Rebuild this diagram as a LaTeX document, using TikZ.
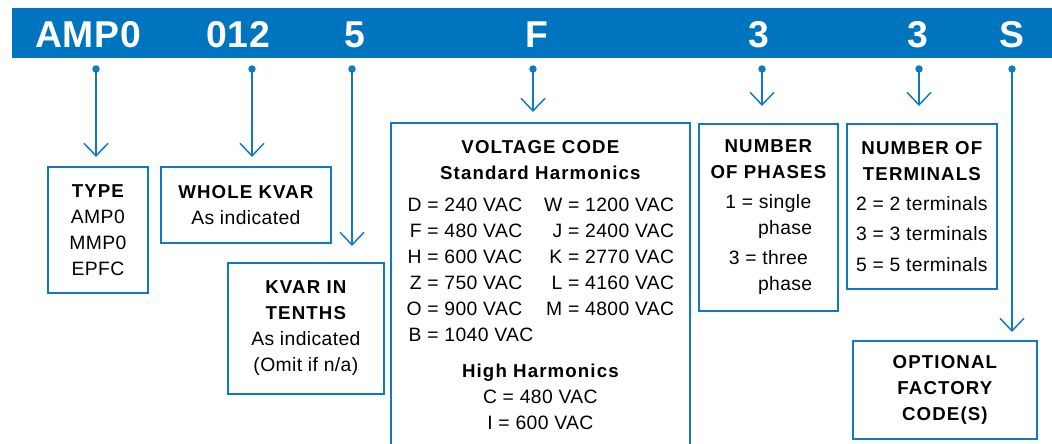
\documentclass[tikz,border=0pt]{standalone}
\usepackage{fontspec}
\setmainfont{Liberation Sans}[LetterSpace=2]
\newfontfamily\headfont{Liberation Sans}[LetterSpace=6]
\usetikzlibrary{arrows.meta}
\definecolor{codeblue}{HTML}{0075BF}
\definecolor{wireblue}{HTML}{1179C2}
\newcommand{\hd}[1]{{\headfont\bfseries\fontsize{14}{19.5}\selectfont #1}}
\tikzset{
	codebox/.style={draw=wireblue,line width=1.3pt,inner sep=0pt,align=center,anchor=north west,font=\fontsize{14.5}{19.5}\selectfont},
	link/.style={wireblue,line width=1.1pt,-{Straight Barb[length=9.5pt,width=18pt]}},
	letter/.style={text=white,anchor=base,inner sep=0pt,font=\fontsize{28}{30}\selectfont\bfseries},
}
\begin{document}
\begin{tikzpicture}[x=0.75pt,y=-0.75pt]
		\useasboundingbox (0,0) rectangle (1052,443);
		\clip (0,0) rectangle (1052,443);
		% code bar
		\fill[codeblue] (12,8) rectangle (1052,58);
		\node[letter] (cType) at (88,47) {AMP0};
		\node[letter] (cWhole) at (238,47) {012};
		\node[letter] (cTenth) at (355,47) {5};
		\node[letter] (cVolt) at (537,47) {F};
		\node[letter] (cPhase) at (759,47) {3};
		\node[letter] (cTerm) at (918,47) {3};
		\node[letter] (cOpt) at (1012,47) {S};
		\coordinate (dType) at (96,69);
		\coordinate (dWhole) at (252,69);
		\coordinate (dTenth) at (352,69);
		\coordinate (dVolt) at (533,69);
		\coordinate (dPhase) at (762,69);
		\coordinate (dTerm) at (919,69);
		\coordinate (dOpt) at (1012,69);
		\foreach \d in {dType,dWhole,dTenth,dVolt,dPhase,dTerm,dOpt}
			\fill[wireblue] (\d) circle (2.8pt);
		% boxes
		\node[codebox,minimum width=75pt,minimum height=94.5pt] (type) at (47,166)
			{\hd{TYPE}\\AMP0\\MMP0\\EPFC};
		\node[codebox,minimum width=127.5pt,minimum height=57pt] (whole) at (160,166)
			{\hd{WHOLE KVAR}\\As indicated};
		\node[codebox,minimum width=117pt,minimum height=98.25pt] (tenth) at (227,262)
			{\hd{KVAR IN}\\\hd{TENTHS}\\As indicated\\(Omit if n/a)};
		\node[codebox,minimum width=224.25pt,inner ysep=13.5pt] (volt) at (390,122)
			{\hd{VOLTAGE CODE}\\\hd{Standard Harmonics}\\[4.5pt]
			\begin{tabular}[t]{@{}r@{ = }l@{\hspace{8pt}}r@{ = }l@{}}
				D&240 VAC&W&1200 VAC\\
				F&480 VAC&J&2400 VAC\\
				H&600 VAC&K&2770 VAC\\
				Z&750 VAC&L&4160 VAC\\
				O&900 VAC&M&4800 VAC\\
				B&1040 VAC&\multicolumn{2}{l}{}
			\end{tabular}\\[9.5pt]
			\hd{High Harmonics}\\C = 480 VAC\\I = 600 VAC};
		\node[codebox,minimum width=104.25pt,minimum height=140.25pt] (phase) at (698,123)
			{\hd{NUMBER}\\\hd{OF PHASES}\\[3pt]1 = single\\\phantom{1 = }phase\\[3pt]3 = three\\\phantom{3 = }phase};
		\node[codebox,minimum width=112.5pt,minimum height=123.75pt] (term) at (846,123)
			{\hd{NUMBER OF}\\\hd{TERMINALS}\\[3pt]2 = 2 terminals\\[3.5pt]3 = 3 terminals\\[3.5pt]5 = 5 terminals};
		\node[codebox,minimum width=138pt,minimum height=73.5pt] (opt) at (852,340)
			{\hd{OPTIONAL}\\\hd{FACTORY}\\\hd{CODE(S)}};
		% pointers
		\draw[link,shorten >=6.75pt] (dType) -- (dType |- type.north);
		\draw[link,shorten >=6.75pt] (dWhole) -- (dWhole |- whole.north);
		\draw[link,shorten >=12pt] (dTenth) -- (dTenth |- tenth.north);
		\draw[link,shorten >=7.5pt] (dVolt) -- (dVolt |- volt.north);
		\draw[link,shorten >=12.75pt] (dPhase) -- (dPhase |- phase.north);
		\draw[link,shorten >=12.75pt] (dTerm) -- (dTerm |- term.north);
		\draw[link,shorten >=6pt] (dOpt) -- (dOpt |- opt.north);
	\end{tikzpicture}
\end{document}
